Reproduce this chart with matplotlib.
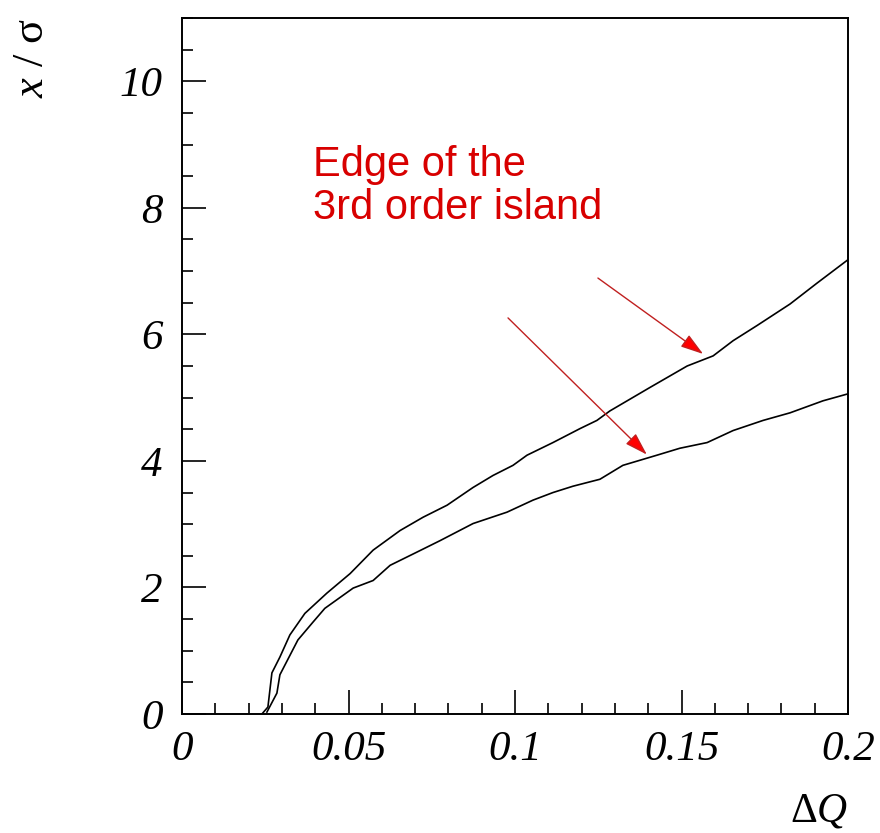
import matplotlib
matplotlib.use("Agg")
import matplotlib.pyplot as plt
from matplotlib.ticker import MultipleLocator

plt.rcParams['mathtext.fontset'] = 'custom'
plt.rcParams['mathtext.rm'] = 'Liberation Serif'
plt.rcParams['mathtext.it'] = 'Liberation Serif:italic'

# curves (dQ, x/sigma)
dq_upper = [0.0240, 0.0258, 0.0270, 0.0294, 0.0324, 0.0369, 0.0435, 0.0505, 0.0574,
            0.0655, 0.0724, 0.0796, 0.0874, 0.0934, 0.0994, 0.1036, 0.1114, 0.1195,
            0.1246, 0.1285, 0.1405, 0.1517, 0.1595, 0.1655, 0.1727, 0.1826, 0.1907, 0.2000]
sig_upper = [0.00, 0.11, 0.65, 0.90, 1.25, 1.59, 1.91, 2.22, 2.59,
             2.90, 3.11, 3.30, 3.58, 3.77, 3.93, 4.09, 4.29, 4.51,
             4.64, 4.79, 5.16, 5.50, 5.66, 5.90, 6.14, 6.48, 6.81, 7.18]

dq_lower = [0.0255, 0.0285, 0.0294, 0.0348, 0.0393, 0.0429, 0.0514, 0.0574, 0.0625,
            0.0706, 0.0775, 0.0874, 0.0976, 0.1054, 0.1114, 0.1174, 0.1255, 0.1324,
            0.1426, 0.1495, 0.1577, 0.1655, 0.1745, 0.1826, 0.1925, 0.2000]
sig_lower = [0.03, 0.33, 0.62, 1.17, 1.45, 1.67, 1.99, 2.11, 2.35,
             2.56, 2.74, 3.01, 3.19, 3.38, 3.50, 3.60, 3.71, 3.93,
             4.09, 4.20, 4.29, 4.48, 4.64, 4.76, 4.95, 5.06]

note = "Edge of the\n3rd order island"
# arrows: (tail, tip) in data units
arrows = [((0.1249, 6.89), (0.1565, 5.69)),
          ((0.0979, 6.26), (0.1396, 4.10))]

fig = plt.figure(figsize=(8.8, 8.33), dpi=100)
ax = fig.add_axes([182/880, 1 - 714/833, 666/880, 696/833])

ax.plot(dq_upper, sig_upper, color='black', lw=1.2)
ax.plot(dq_lower, sig_lower, color='black', lw=1.2)

ax.set_xlim(0, 0.2)
ax.set_ylim(0, 11)

ax.xaxis.set_major_locator(MultipleLocator(0.05))
ax.xaxis.set_minor_locator(MultipleLocator(0.01))
ax.yaxis.set_major_locator(MultipleLocator(2))
ax.yaxis.set_minor_locator(MultipleLocator(0.5))
ax.xaxis.set_major_formatter(plt.FuncFormatter(lambda v, p: f"{v:g}"))

ax.tick_params(which='both', direction='in', top=False, right=False, width=1.2)
ax.tick_params(which='major', length=17)
ax.tick_params(which='minor', length=8)
ax.tick_params(axis='x', pad=12)
ax.tick_params(axis='y', pad=14)
for lab in ax.get_xticklabels() + ax.get_yticklabels():
    lab.set_fontfamily('Liberation Serif')
    lab.set_fontstyle('italic')
    lab.set_fontsize(31)

for s in ax.spines.values():
    s.set_linewidth(1.4)

fig.text(32/880, 1 - 18/833, r'$x$ / σ', rotation=90, ha='center', va='top',
         fontsize=32, fontfamily='Liberation Serif')
fig.text(848/880, 1 - 831/833, r'Δ$Q$', ha='right', va='bottom',
         fontsize=30, fontfamily='Liberation Serif')

ax.text(0.0393, 7.82, note, color='#d80000', fontsize=30, fontfamily='Liberation Sans',
        ha='left', va='baseline', linespacing=1.1)

for tail, tip in arrows:
    ax.annotate('', xy=tip, xytext=tail,
                arrowprops=dict(arrowstyle='-|>,head_length=0.7,head_width=0.22',
                                fc='#ff0000', ec='#c02020', lw=1.0,
                                mutation_scale=20, shrinkA=0, shrinkB=0))

fig.savefig('out.png', dpi=100)
